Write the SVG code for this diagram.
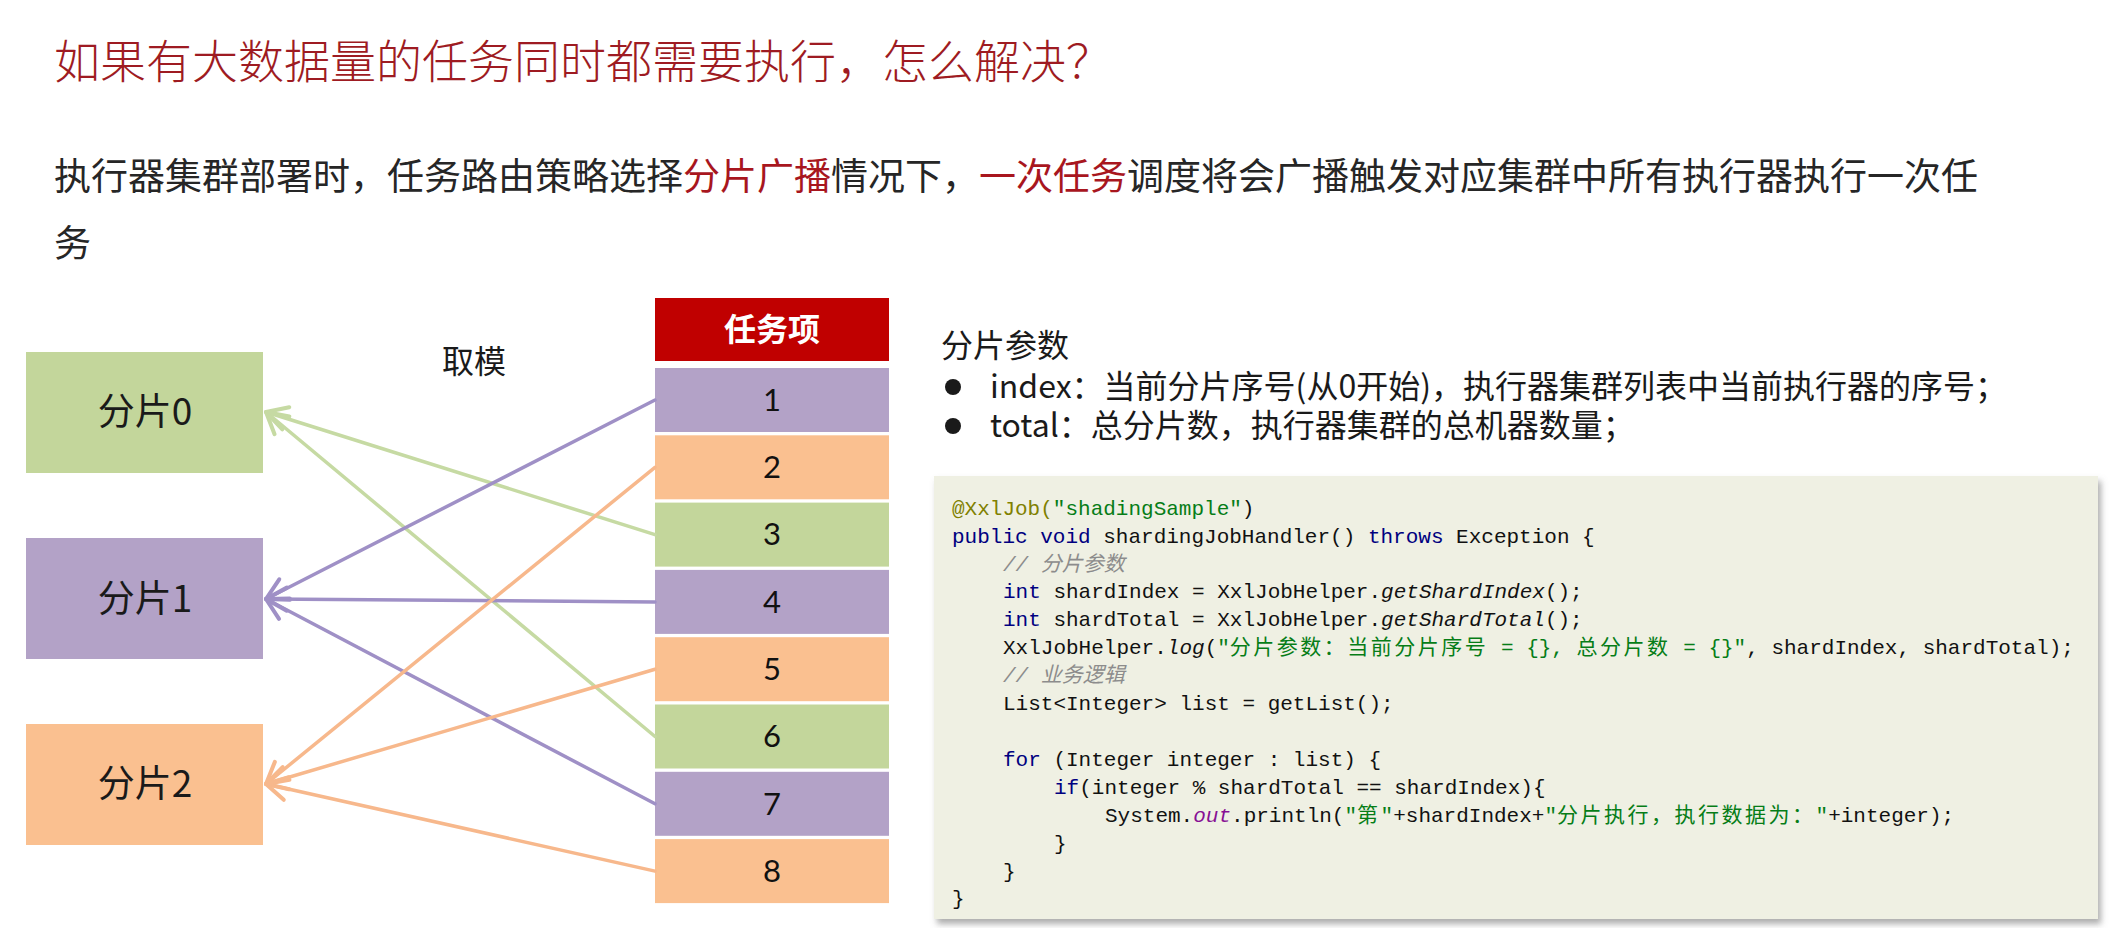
<svg xmlns="http://www.w3.org/2000/svg" width="2114" height="928" viewBox="0 0 2114 928">
<defs>
<style>
.cn{font-family:"Noto Sans CJK SC","Noto Sans",sans-serif}
.title{font-size:46px;font-weight:300;fill:#9E1B22}
.sub{font-size:37px;fill:#262626}
.red{fill:#A8161E}
.shard{font-size:37px;fill:#1a1a1a;text-anchor:middle}
.num{font-family:Lato,"Liberation Sans",sans-serif;font-size:31px;fill:#111;text-anchor:middle}
.hdr{font-size:32px;font-weight:700;fill:#fff;text-anchor:middle}
.para{font-size:32px;fill:#1a1a1a}
.code{font-family:"Liberation Mono","Noto Sans CJK SC",monospace;font-size:21px;fill:#111;white-space:pre}
.kw{fill:#000080}
.str{fill:#067D17}
.ann{fill:#808000}
.cm{fill:#8C8C8C;font-style:italic}
.it{font-style:italic}
.fld{fill:#871094;font-style:italic}
.cj{letter-spacing:2.5px}
.g{fill:#C3D69B}.p{fill:#B3A2C7}.o{fill:#FAC090}
.lg{stroke:#C6DAA3;stroke-width:3.5;fill:none;stroke-linecap:round}
.lp{stroke:#9F90C6;stroke-width:3.5;fill:none;stroke-linecap:round}
.lo{stroke:#F7B88C;stroke-width:3.5;fill:none;stroke-linecap:round}
</style>
<marker id="ag" markerUnits="userSpaceOnUse" markerWidth="30" markerHeight="30" viewBox="-22 -12 26 24" refX="0" refY="0" orient="auto"><path d="M-18,-10 L0,0 L-18,10" fill="none" stroke="#C6DAA3" stroke-width="3.5" stroke-linecap="round" stroke-linejoin="round"/></marker>
<marker id="ap" markerUnits="userSpaceOnUse" markerWidth="30" markerHeight="30" viewBox="-22 -12 26 24" refX="0" refY="0" orient="auto"><path d="M-18,-10 L0,0 L-18,10" fill="none" stroke="#9F90C6" stroke-width="3.5" stroke-linecap="round" stroke-linejoin="round"/></marker>
<marker id="ao" markerUnits="userSpaceOnUse" markerWidth="30" markerHeight="30" viewBox="-22 -12 26 24" refX="0" refY="0" orient="auto"><path d="M-18,-10 L0,0 L-18,10" fill="none" stroke="#F7B88C" stroke-width="3.5" stroke-linecap="round" stroke-linejoin="round"/></marker>
<filter id="sh" x="-5%" y="-5%" width="110%" height="115%"><feDropShadow dx="3" dy="5" stdDeviation="3" flood-color="#777" flood-opacity="0.6"/></filter>
</defs>
<rect width="2114" height="928" fill="#fff"/>

<g id="title"><text class="cn title" x="54" y="78">如果有大数据量的任务同时都需要执行，怎么解决？</text></g>
<g id="subtitle">
<text class="cn sub" x="54" y="190">执行器集群部署时，任务路由策略选择<tspan class="red">分片广播</tspan>情况下，<tspan class="red">一次任务</tspan>调度将会广播触发对应集群中所有执行器执行一次任</text>
<text class="cn sub" x="54" y="257">务</text>
</g>

<g id="shard0"><rect class="g" x="26" y="352" width="237" height="121"/><text class="cn shard" x="145" y="425">分片0</text></g>
<g id="shard1"><rect class="p" x="26" y="538" width="237" height="121"/><text class="cn shard" x="145" y="612">分片1</text></g>
<g id="shard2"><rect class="o" x="26" y="724" width="237" height="121"/><text class="cn shard" x="145" y="797">分片2</text></g>

<g id="mod-label"><text class="cn" x="442" y="373" font-size="32" fill="#1a1a1a">取模</text></g>

<g id="task-header"><rect x="655" y="298" width="234" height="63" fill="#C00000"/><text class="cn hdr" x="772" y="341">任务项</text></g>
<g id="task1"><rect class="p" x="655" y="368" width="234" height="64"/><text class="num" x="772" y="411">1</text></g>
<g id="task2"><rect class="o" x="655" y="435.3" width="234" height="64"/><text class="num" x="772" y="478">2</text></g>
<g id="task3"><rect class="g" x="655" y="502.6" width="234" height="64"/><text class="num" x="772" y="545">3</text></g>
<g id="task4"><rect class="p" x="655" y="569.9" width="234" height="64"/><text class="num" x="772" y="613">4</text></g>
<g id="task5"><rect class="o" x="655" y="637.2" width="234" height="64"/><text class="num" x="772" y="680">5</text></g>
<g id="task6"><rect class="g" x="655" y="704.5" width="234" height="64"/><text class="num" x="772" y="747">6</text></g>
<g id="task7"><rect class="p" x="655" y="771.8" width="234" height="64"/><text class="num" x="772" y="815">7</text></g>
<g id="task8"><rect class="o" x="655" y="839.1" width="234" height="64"/><text class="num" x="772" y="882">8</text></g>

<g id="connectors">
<line class="lg" x1="655" y1="534.6" x2="266" y2="412" marker-end="url(#ag)"/>
<line class="lg" x1="655" y1="736.5" x2="266" y2="412" marker-end="url(#ag)"/>
<line class="lp" x1="655" y1="400" x2="266" y2="599" marker-end="url(#ap)"/>
<line class="lp" x1="655" y1="601.9" x2="266" y2="599" marker-end="url(#ap)"/>
<line class="lp" x1="655" y1="803.8" x2="266" y2="599" marker-end="url(#ap)"/>
<line class="lo" x1="655" y1="467.3" x2="266" y2="784" marker-end="url(#ao)"/>
<line class="lo" x1="655" y1="669.2" x2="266" y2="784" marker-end="url(#ao)"/>
<line class="lo" x1="655" y1="871.1" x2="266" y2="784" marker-end="url(#ao)"/>
</g>

<g id="params">
<text class="cn para" x="941" y="357">分片参数</text>
<circle cx="953" cy="387" r="8" fill="#1a1a1a"/>
<text class="cn para" x="990" y="398">index：当前分片序号(从0开始)，执行器集群列表中当前执行器的序号；</text>
<circle cx="953" cy="426" r="8" fill="#1a1a1a"/>
<text class="cn para" x="990" y="437">total：总分片数，执行器集群的总机器数量；</text>
</g>

<g id="code-block">
<rect x="934" y="476" width="1164" height="443" fill="#EFF0E3" filter="url(#sh)"/>
<text class="code" x="952" y="515"><tspan class="ann">@XxlJob(</tspan><tspan class="str">"shadingSample"</tspan>)</text>
<text class="code" x="952" y="543"><tspan class="kw">public void</tspan> shardingJobHandler() <tspan class="kw">throws</tspan> Exception {</text>
<text class="code" x="1003" y="571"><tspan class="cm">// 分片参数</tspan></text>
<text class="code" x="1003" y="598"><tspan class="kw">int</tspan> shardIndex = XxlJobHelper.<tspan class="it">getShardIndex</tspan>();</text>
<text class="code" x="1003" y="626"><tspan class="kw">int</tspan> shardTotal = XxlJobHelper.<tspan class="it">getShardTotal</tspan>();</text>
<text class="code" x="1003" y="654">XxlJobHelper.<tspan class="it">log</tspan>(<tspan class="str">"<tspan class="cj">分片参数：当前分片序号</tspan> = {}, <tspan class="cj">总分片数</tspan> = {}"</tspan>, shardIndex, shardTotal);</text>
<text class="code" x="1003" y="682"><tspan class="cm">// 业务逻辑</tspan></text>
<text class="code" x="1003" y="710">List&lt;Integer&gt; list = getList();</text>
<text class="code" x="1003" y="766"><tspan class="kw">for</tspan> (Integer integer : list) {</text>
<text class="code" x="1054" y="794"><tspan class="kw">if</tspan>(integer % shardTotal == shardIndex){</text>
<text class="code" x="1105" y="822">System.<tspan class="fld">out</tspan>.println(<tspan class="str">"<tspan class="cj">第</tspan>"</tspan>+shardIndex+<tspan class="str">"<tspan class="cj">分片执行，执行数据为：</tspan>"</tspan>+integer);</text>
<text class="code" x="1054" y="850">}</text>
<text class="code" x="1003" y="878">}</text>
<text class="code" x="952" y="905">}</text>
</g>
</svg>
